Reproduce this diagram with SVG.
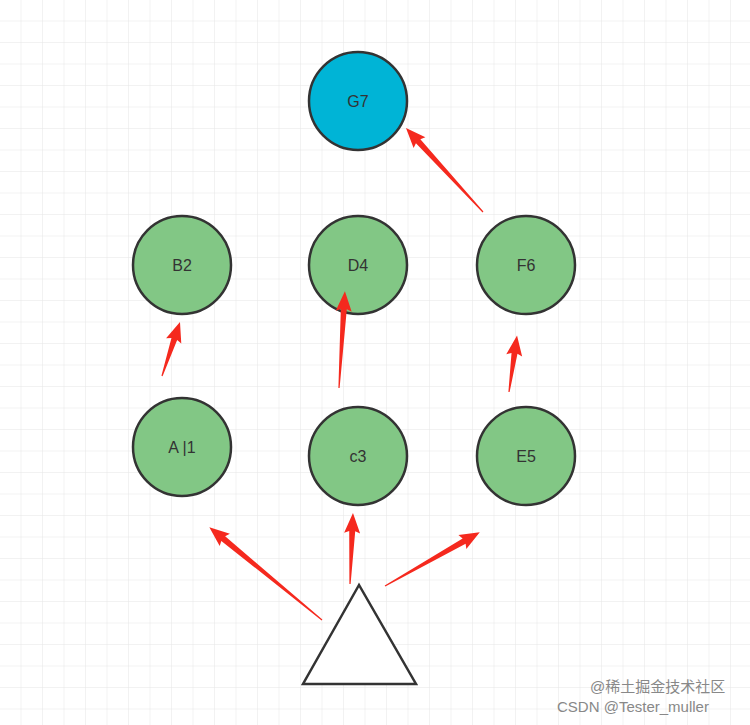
<svg xmlns="http://www.w3.org/2000/svg" width="750" height="725" viewBox="0 0 750 725">
<style>
.n circle{fill:#82c785;stroke:#333;stroke-width:2.5}
.n text{font-family:"Liberation Sans",Arial,sans-serif;font-size:16px;fill:#333;text-anchor:middle;dominant-baseline:central}
.a{fill:#f5291e}
.wm{font-family:"Liberation Sans","Noto Sans CJK SC",sans-serif;font-size:15px;fill:#888}
</style>
<defs>
<pattern id="g" width="21.5" height="21.5" patternUnits="userSpaceOnUse">
<path d="M21.5 0V21.5H0" fill="none" stroke="#e6e6e6" stroke-width="1"/>
</pattern>
</defs>
<rect width="750" height="725" fill="#fff"/>
<rect width="750" height="725" fill="url(#g)"/>
<g id="G7" class="n"><circle cx="358" cy="101" r="49" style="fill:#00b4d6"/><text x="358" y="101">G7</text></g>
<g id="B2" class="n"><circle cx="182" cy="265" r="49"/><text x="182" y="265">B2</text></g>
<g id="D4" class="n"><circle cx="358" cy="265" r="49"/><text x="358" y="265">D4</text></g>
<g id="F6" class="n"><circle cx="526" cy="265" r="49"/><text x="526" y="265">F6</text></g>
<g id="A1" class="n"><circle cx="182" cy="447" r="49"/><text x="182" y="447">A |1</text></g>
<g id="c3" class="n"><circle cx="358" cy="456" r="49"/><text x="358" y="456">c3</text></g>
<g id="E5" class="n"><circle cx="526" cy="456" r="49"/><text x="526" y="456">E5</text></g>
<g id="tri"><polygon points="359,585 303,684 416,684" fill="#fff" stroke="#333" stroke-width="2.5"/></g>
<g id="connectors" class="a">
<polygon transform="translate(162,376) rotate(-71.6)" points="0,-0.6 39,-3 37,-8 57,0 37,8 39,3 0,0.6"/>
<polygon transform="translate(339,388) rotate(-86.5)" points="0,-0.6 79,-3 77,-8 97,0 77,8 79,3 0,0.6"/>
<polygon transform="translate(509,392) rotate(-81.9)" points="0,-0.6 39,-3 37,-8 57,0 37,8 39,3 0,0.6"/>
<polygon transform="translate(483,212) rotate(-132.5)" points="0,-0.6 96,-3 94,-8 114,0 94,8 96,3 0,0.6"/>
<polygon transform="translate(322,620) rotate(-140.5)" points="0,-0.6 128,-3 126,-8 146,0 126,8 128,3 0,0.6"/>
<polygon transform="translate(350,584) rotate(-87.6)" points="0,-0.6 53,-3 51,-8 71,0 51,8 53,3 0,0.6"/>
<polygon transform="translate(385,586) rotate(-29.6)" points="0,-0.6 91,-3 89,-8 109,0 89,8 91,3 0,0.6"/>
</g>
<text class="wm" x="590" y="692" font-size="14">@稀土掘金技术社区</text>
<text class="wm" x="557" y="712" font-size="16">CSDN @Tester_muller</text>
</svg>
